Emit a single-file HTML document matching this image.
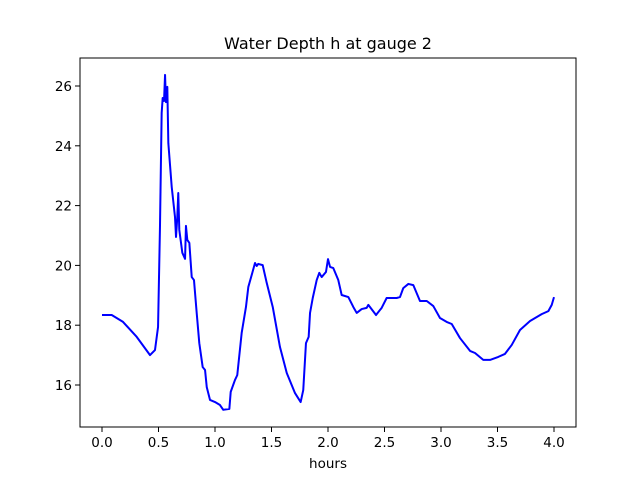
<!DOCTYPE html>
<html><head><meta charset="utf-8"><style>
body{margin:0;background:#fff}
svg{display:block;font-family:"DejaVu Sans","Liberation Sans",sans-serif}
</style></head><body>
<svg id="chart" width="640" height="480">
<rect width="640" height="480" fill="#fff"/>
<text x="328" y="49" text-anchor="middle" font-size="16">Water Depth h at gauge 2</text>
<g id="ticks"></g>
<polyline id="line" fill="none" stroke="#0000ff" stroke-width="2" stroke-linejoin="round"/>
<rect x="80" y="58" width="496" height="369" fill="none" stroke="#000" stroke-width="1"/>
<text x="328" y="468" text-anchor="middle" font-size="13.5">hours</text>
</svg>
<script>
const hours=[0.0,0.086,0.186,0.307,0.425,0.469,0.496,0.513,0.528,0.537,0.549,0.558,0.566,0.578,0.587,0.617,0.646,0.655,0.666,0.675,0.684,0.711,0.735,0.743,0.755,0.773,0.794,0.814,0.838,0.861,0.891,0.912,0.927,0.956,1.0,1.044,1.073,1.127,1.139,1.177,1.197,1.236,1.274,1.295,1.330,1.354,1.369,1.383,1.422,1.458,1.511,1.575,1.635,1.708,1.758,1.781,1.805,1.829,1.841,1.865,1.900,1.923,1.944,1.982,2.0,2.018,2.047,2.091,2.121,2.180,2.224,2.254,2.298,2.342,2.357,2.425,2.475,2.519,2.608,2.637,2.666,2.711,2.755,2.814,2.874,2.932,2.991,3.050,3.095,3.168,3.257,3.301,3.374,3.434,3.507,3.566,3.626,3.699,3.788,3.891,3.950,3.980,4.0];
const depth=[18.34,18.34,18.11,17.61,17.0,17.17,17.94,21.28,25.1,25.6,25.5,26.37,25.46,25.97,24.09,22.62,21.62,20.95,21.59,22.42,21.19,20.42,20.22,21.32,20.85,20.75,19.61,19.51,18.41,17.4,16.6,16.5,15.93,15.5,15.43,15.33,15.17,15.2,15.77,16.17,16.33,17.74,18.61,19.28,19.75,20.08,19.98,20.05,20.01,19.41,18.61,17.27,16.4,15.73,15.43,15.83,17.4,17.61,18.41,18.91,19.51,19.75,19.61,19.78,20.21,19.95,19.91,19.51,19.01,18.94,18.61,18.41,18.54,18.58,18.68,18.34,18.58,18.91,18.91,18.94,19.24,19.38,19.34,18.81,18.81,18.64,18.24,18.11,18.04,17.57,17.14,17.07,16.84,16.84,16.94,17.04,17.34,17.84,18.14,18.37,18.47,18.68,18.94];
const xTicks=[0.0,0.5,1.0,1.5,2.0,2.5,3.0,3.5,4.0];
const xTickLabels=["0.0","0.5","1.0","1.5","2.0","2.5","3.0","3.5","4.0"];
const yTicks=[16,18,20,22,24,26];
const yTickLabels=["16","18","20","22","24","26"];
function xs(t){return 102+113*t;}
function ys(h){return 385-29.9*(h-16);}
const NS="http://www.w3.org/2000/svg";
const g=document.getElementById('ticks');
xTicks.forEach((t,i)=>{
  const l=document.createElementNS(NS,'line');
  l.setAttribute('x1',xs(t));l.setAttribute('x2',xs(t));l.setAttribute('y1',427);l.setAttribute('y2',432);l.setAttribute('stroke','#000');
  
  
  g.appendChild(l);
  const tx=document.createElementNS(NS,'text');
  tx.setAttribute('x',xs(t));tx.setAttribute('y',447);tx.setAttribute('text-anchor','middle');tx.setAttribute('font-size','13.5');
  tx.textContent=xTickLabels[i];
  
  
  g.appendChild(tx);
});
yTicks.forEach((v,i)=>{
  const l=document.createElementNS(NS,'line');
  l.setAttribute('x1',75);l.setAttribute('x2',80);l.setAttribute('y1',ys(v));l.setAttribute('y2',ys(v));l.setAttribute('stroke','#000');
  
  
  g.appendChild(l);
  const tx=document.createElementNS(NS,'text');
  tx.setAttribute('x',72);tx.setAttribute('y',ys(v)+5);tx.setAttribute('text-anchor','end');tx.setAttribute('font-size','13.5');
  tx.textContent=yTickLabels[i];
  
  
  g.appendChild(tx);
});
document.getElementById('line').setAttribute('points',hours.map((t,i)=>xs(t)+','+ys(depth[i])).join(' '));
</script>
</body></html>
